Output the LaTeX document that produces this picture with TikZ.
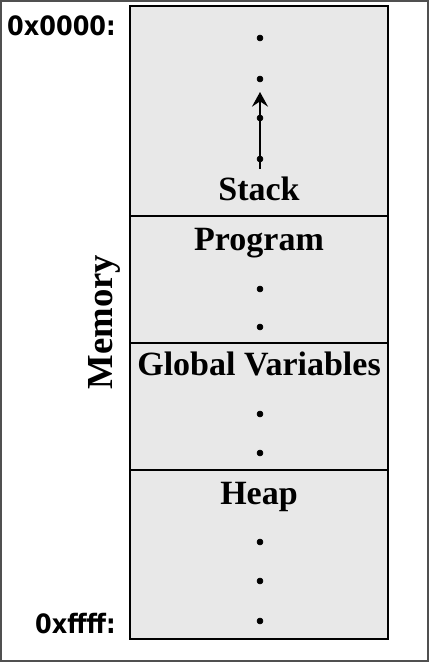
\documentclass[tikz,border=0pt]{standalone}
\usepackage{fontspec}
\setmainfont{Liberation Serif}
\newfontfamily\addrfont{DejaVu Sans Condensed}
\usetikzlibrary{positioning,arrows.meta}
\definecolor{memgray}{HTML}{E8E8E8}
\definecolor{framegray}{HTML}{505050}

\begin{document}
\begin{tikzpicture}[x=0.75pt,y=-0.75pt,
		seg/.style={draw=black,fill=memgray,line width=1pt},
		lbl/.style={font=\fontsize{25.5}{30}\selectfont\bfseries,anchor=base,inner sep=0pt},
		addr/.style={font=\addrfont\fontsize{20}{24}\selectfont\bfseries,anchor=base east,inner sep=0pt}]
	\useasboundingbox (0,0) rectangle (429,662);
	\draw[framegray,line width=1.5pt] (1,1) rectangle (428,661);
	% memory segments
	\draw[seg] (130,6) rectangle (388,216);
	\draw[seg] (130,216) rectangle (388,343);
	\draw[seg] (130,343) rectangle (388,470);
	\draw[seg] (130,470) rectangle (388,639);
	\node[lbl] (stack) at (259,200) {Stack};
	\node[lbl] (program) at (259,250) {Program};
	\node[lbl] (globals) at (259,375) {Global Variables};
	\node[lbl] (heap) at (259,504) {Heap};
	\node[font=\fontsize{27.5}{32}\selectfont\bfseries,rotate=90,anchor=base,inner sep=0pt] (memory) at (113,322) {Memory};
	\node[addr] (low) at (116,35) {0x0000:};
	\node[addr] (high) at (116,633) {0xffff:};
	% dots
	\foreach \y in {38,79,118,159,289,327,414,453,542,581,621}
		\draw[black,fill=black] (260,\y) circle [radius=3];
	% stack growth
	\coordinate (growtail) at (260,169);
	\coordinate (growtip) at (260,92);
	\draw[line width=1.8pt,-{Stealth[length=11pt,width=12pt,inset=4pt]}] (growtail) -- (growtip);
\end{tikzpicture}
\end{document}
